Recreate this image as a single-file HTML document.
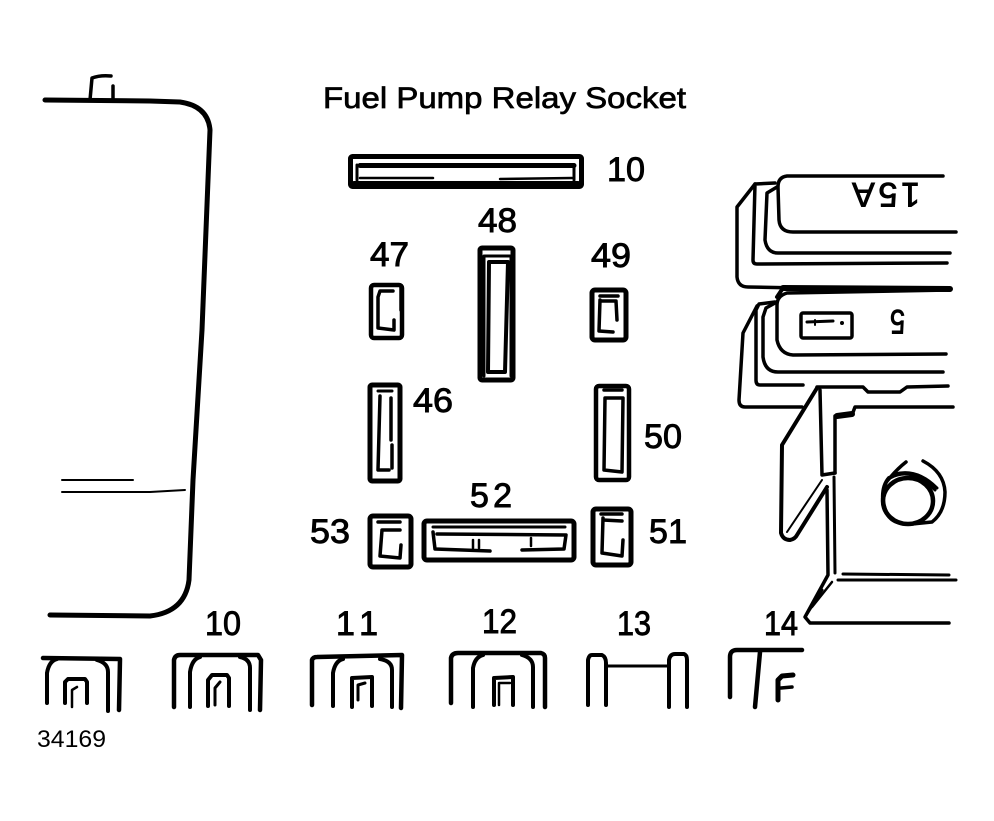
<!DOCTYPE html>
<html><head><meta charset="utf-8"><style>
html,body{margin:0;padding:0;background:#fff}
svg{display:block}
text{font-family:"Liberation Sans",sans-serif;fill:#000}
.n{font-size:34px;stroke:#000;stroke-width:.9}
</style></head><body>
<svg width="994" height="821" viewBox="0 0 994 821" xmlns="http://www.w3.org/2000/svg">
<g fill="none" stroke="#000" stroke-width="3.500" stroke-linecap="round" stroke-linejoin="round">
<!-- left body -->
<path d="M45 100 L150 101 L180 102 Q208 106 210 130 L202 330 L193 480 L189 580 Q185 612 150 616 L50 615" stroke-width="5"/>
<path d="M90 100 L92 78 Q100 75 111 76 M113 86 L113 100" stroke-width="3.500"/>
<path d="M62 480 L133 480 M62 492 L150 492 L185 490" stroke-width="2"/>
<!-- bar 10 -->
<rect x="350.500" y="156.500" width="231" height="30" rx="2" stroke-width="5"/>
<path d="M360 165.500 L574 165.500" stroke-width="5"/>
<path d="M357 165 L357 180 M574 165 L574 180" stroke-width="3"/>
<path d="M360 178 L433 178 M500 179 L572 178" stroke-width="2.500"/>
<path d="M354 183 L578 183" stroke-width="4"/>
<!-- 48 -->
<rect x="480" y="248" width="33" height="132" rx="2" stroke-width="5"/>
<path d="M485 256 L510 256" stroke-width="3"/>
<path d="M489 262 L488 372 L505 372 L508 262 Z" stroke-width="4"/>
<path d="M484 256 L484 376 M511 256 L511 376" stroke-width="3"/>
<!-- 47 -->
<rect x="371" y="285" width="31" height="53" rx="3" stroke-width="4.500"/>
<path d="M393 291 L380 291 L378 297 L378 328 L394 330 L394 320" stroke-width="3.500"/>
<path d="M401 286 L401 310"/>
<!-- 49 -->
<rect x="592" y="290" width="34" height="50" rx="3" stroke-width="5"/>
<path d="M600 296 L618 296 M600 300 L599 331 L613 332 M600 301 L616 301 L617 320" stroke-width="3.500"/>
<!-- 46 -->
<rect x="370" y="385" width="30" height="96" rx="2" stroke-width="5"/>
<path d="M378 391 L392 391" stroke-width="3"/>
<path d="M380 396 L378 470 L389 470 M391 398 L391 440 M392 445 L392 468" stroke-width="3.500"/>
<!-- 50 -->
<rect x="596" y="386" width="33" height="94" rx="3" stroke-width="4.500"/>
<path d="M604 390 L622 390 M605 398 L604 470 L622 472 L623 398 Z" stroke-width="3.500"/>
<!-- 53 -->
<rect x="370" y="516" width="41" height="51" rx="3" stroke-width="5"/>
<path d="M378 522 L400 522 M400 530 L382 530 L380 556 L400 558 L401 545" stroke-width="3.500"/>
<!-- 52 -->
<rect x="424" y="521" width="150" height="39" rx="3" stroke-width="5"/>
<path d="M433 527 L565 527" stroke-width="3"/>
<path d="M433 532 L435 549 L490 551 M522 550 L564 549 L566 535 L437 534" stroke-width="3.500"/>
<path d="M473 540 L473 548 M479 540 L479 548 M531 538 L531 546" stroke-width="2.500"/>
<!-- 51 -->
<rect x="593" y="509" width="38" height="56" rx="3" stroke-width="5"/>
<path d="M601 514 L622 514 M603 520 L622 521 M603 518 L602 553 L622 556 L623 540" stroke-width="3.500"/>

<!-- right side: top fuse -->
<path d="M943 176 L787 176 Q778 177 778 187 L779 220 Q780 232 793 232 L956 232"/>
<path d="M777 187 L767 193 L765 240 Q767 253 778 253 L950 253"/>
<path d="M775 183 L755 184 L753 260 Q753 264 757 264 L947 263"/>
<path d="M755 184 L737 207 L737 277 Q738 287 748 287 L800 288"/>
<path d="M783 288 L950 289" stroke-width="6"/>
<!-- second fuse -->
<path d="M783 288 L777 297" stroke-width="4"/>
<path d="M950 290 L787 293 Q777 296 777 305 L777 340 Q780 354 793 355 L946 354"/>
<path d="M775 303 L766 308 L763 317 L763 357 Q765 372 778 372 L943 372"/>
<path d="M775 302 L759 304 L756 310 L756 380 Q756 385 760 385 L803 385"/>
<path d="M757 306 L743 333 L739 400 Q739 407 745 407 L802 407"/>
<!-- fuse icon -->
<rect x="801" y="313" width="51" height="25" rx="2" stroke-width="3.500"/>
<path d="M807 322 L833 321" stroke-width="3"/>
<path d="M815 320 L815 325" stroke-width="2"/>
<circle cx="842" cy="323" r="1.500" fill="#000" stroke-width="1"/>
<!-- flap -->
<path d="M817 387 L863 387 L868 392 L900 392 L907 387 L948 386" stroke-width="3.500"/>
<path d="M817 388 L782 445 L781 533 Q783 540 790 540 Q795 539 797 535 L827 487" stroke-width="4"/>
<path d="M787 532 L822 480" stroke-width="2"/>
<path d="M820 390 L822 475 L835 473"/>
<path d="M953 407 L855 407 L852 415 L835 416 L835 473"/>
<path d="M837 416 L852 414" stroke-width="6"/>
<path d="M834 477 L835 573" stroke-width="3"/>
<path d="M827 490 L828 575 L805 617 L810 623 L949 623" stroke-width="3.500"/>
<path d="M832 582 L812 607" stroke-width="2.500"/>
<path d="M805 617 L822 590" stroke-width="3"/>
<path d="M843 574 L949 575 M838 580 L956 580" stroke-width="3"/>
<!-- knob -->
<ellipse cx="908" cy="501" rx="25" ry="23" stroke-width="4.500"/>
<path d="M889 478 Q882 486 883 500 Q885 518 897 522" stroke-width="4"/>
<path d="M888 480 Q897 469 906 462 M923 461 Q944 472 945 492 Q945 512 932 522 L912 524" stroke-width="3.500"/>
<path d="M890 478 Q912 466 935 490 M895 474 Q917 468 937 488" stroke-width="3"/>

<!-- bottom connectors -->
<g stroke-width="4">
<path d="M43 658 L120 659 L119 710" stroke-width="4.500"/>
<path d="M47 703 L47 673 Q49 661 57 659 M97 660 Q108 663 108 672 L108 711"/>
<path d="M65 703 L65 682 L68 679 L85 679 L87 682 L87 703"/>
<path d="M72 707 L72 690 L77 687" stroke-width="2.500"/>

<path d="M174 707 L174 660 Q175 655 180 655 L258 655 L261 660 L260 710" stroke-width="4.500"/>
<path d="M190 707 L190 672 Q192 659 200 657 M240 657 Q250 659 250 668 L250 710"/>
<path d="M208 706 L208 680 L212 675 L227 675 L229 678 L229 706"/>
<path d="M215 705 L215 688 L220 682" stroke-width="3"/>

<path d="M312 705 L312 660 Q313 657 317 657 L402 655 L401 708" stroke-width="4.500"/>
<path d="M333 706 L333 673 Q335 661 343 659 M380 659 Q392 661 392 670 L392 707"/>
<path d="M352 707 L352 678 L372 677 L372 706"/>
<path d="M358 700 L358 685 L365 683" stroke-width="3"/>

<path d="M451 703 L451 658 Q452 653 458 653 L541 653 Q545 654 545 658 L545 707" stroke-width="4.500"/>
<path d="M473 707 L473 668 Q475 657 483 655 M522 655 Q533 658 533 667 L533 707"/>
<path d="M494 705 L494 678 L513 677 L513 705"/>
<path d="M499 705 L499 683 L510 683" stroke-width="2.500"/>

<path d="M588 705 L588 660 Q589 655 592 655 L602 655 Q606 657 606 663 L606 705"/>
<path d="M607 666 L668 666" stroke-width="3"/>
<path d="M669 707 L669 660 Q670 654 675 654 L684 654 Q687 655 687 660 L687 707"/>

<path d="M730 697 L730 657 Q730 650 737 650 L802 650" stroke-width="4.500"/>
<path d="M755 707 L760 652" stroke-width="4.500"/>
<path d="M778 700 L778 680 L782 676 L793 675" stroke-width="5"/>
<path d="M781 688 L792 687" stroke-width="3.500"/>
</g>
</g>

<!-- labels -->
<text x="323" y="108" font-size="30" textLength="363" lengthAdjust="spacingAndGlyphs" stroke="#000" stroke-width=".7">Fuel Pump Relay Socket</text>
<text class="n" x="607" y="181" textLength="38" lengthAdjust="spacingAndGlyphs">10</text>
<text class="n" x="478" y="232" textLength="39" lengthAdjust="spacingAndGlyphs">48</text>
<text class="n" x="370" y="266" textLength="39" lengthAdjust="spacingAndGlyphs">47</text>
<text class="n" x="591" y="267" textLength="40" lengthAdjust="spacingAndGlyphs">49</text>
<text class="n" x="413" y="412" textLength="40" lengthAdjust="spacingAndGlyphs">46</text>
<text class="n" x="644" y="448" textLength="38" lengthAdjust="spacingAndGlyphs">50</text>
<text class="n" x="470" y="507" textLength="42">52</text>
<text class="n" x="310" y="543" textLength="40" lengthAdjust="spacingAndGlyphs">53</text>
<text class="n" x="649" y="543" textLength="38">51</text>
<text class="n" x="205" y="635" textLength="36" lengthAdjust="spacingAndGlyphs">10</text>
<text class="n" x="336" y="635" textLength="42">11</text>
<text class="n" x="482" y="633" textLength="35" lengthAdjust="spacingAndGlyphs">12</text>
<text class="n" x="617" y="635" textLength="34" lengthAdjust="spacingAndGlyphs">13</text>
<text class="n" x="764" y="635" textLength="34" lengthAdjust="spacingAndGlyphs">14</text>
<text x="37" y="747" font-size="24" textLength="69" lengthAdjust="spacingAndGlyphs">34169</text>
<text class="n" transform="translate(920 183) rotate(180)" textLength="68">15A</text>
<text class="n" transform="translate(905 310) rotate(180)" textLength="15" lengthAdjust="spacingAndGlyphs">5</text>
</svg>
</body></html>
